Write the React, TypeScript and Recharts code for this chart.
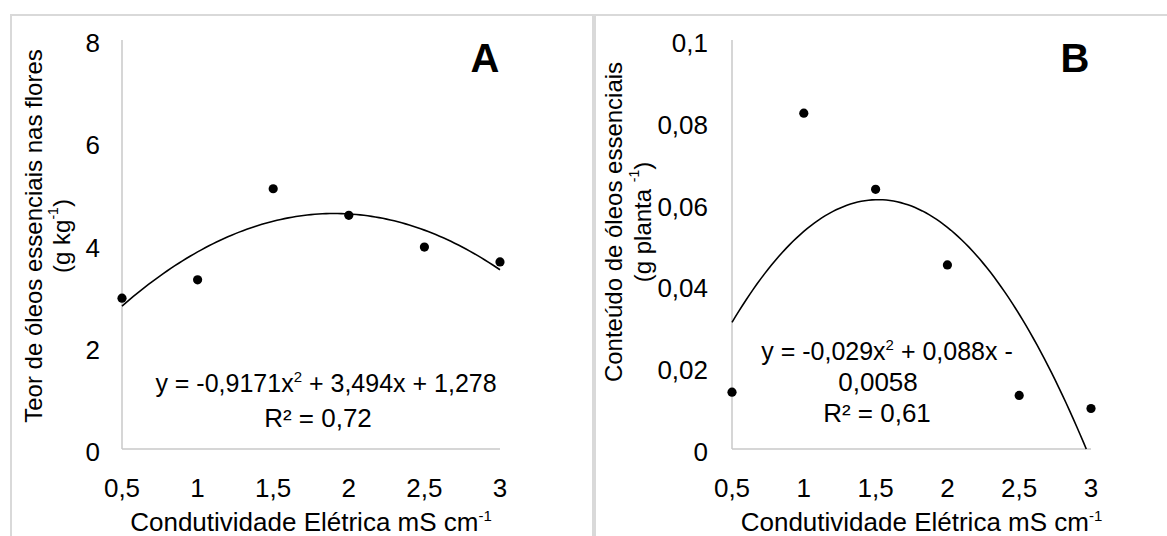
import React from 'react';
import { ScatterChart, Scatter, XAxis, YAxis, Label } from 'recharts';

// Electrical conductivity levels (mS cm-1)
const ecLevels = [0.5, 1, 1.5, 2, 2.5, 3];
// Essential-oil content in flowers (g kg-1)
const teorValues = [2.95, 3.31, 5.09, 4.57, 3.95, 3.66];
// Essential-oil yield per plant (g planta-1)
const conteudoValues = [0.0139, 0.0821, 0.0635, 0.045, 0.0131, 0.0099];

// Quadratic trendline coefficients [a, b, c] for y = a x^2 + b x + c
const teorCoef = [-0.9171, 3.494, 1.278];
const conteudoCoef = [-0.029, 0.088, -0.0058];

const teorTicks = [0, 2, 4, 6, 8];
const conteudoTicks = [0, 0.02, 0.04, 0.06, 0.08, 0.1];

const FONT = '"Liberation Sans", Arial, Helvetica, sans-serif';
const AXIS_GRAY = '#c9c9c9';
const FRAME_GRAY = '#d9d9d9';

const toPoints = (ys: number[]) => ecLevels.map((x, i) => ({ x, y: ys[i] }));

// Trendline sampled from its coefficients, cut where it leaves the plot (y < 0)
const trendCurve = (coef: number[]) => {
  const [a, b, c] = coef;
  const f = (x: number) => a * x * x + b * x + c;
  const pts: { x: number; y: number }[] = [];
  const lo = ecLevels[0];
  const hi = ecLevels[ecLevels.length - 1];
  const steps = 100;
  for (let i = 0; i <= steps; i++) {
    const x = lo + ((hi - lo) * i) / steps;
    const y = f(x);
    if (y >= 0) {
      pts.push({ x, y });
    } else {
      // close the curve at the x-axis crossing
      if (pts.length) {
        const disc = b * b - 4 * a * c;
        const r = (-b - Math.sqrt(disc)) / (2 * a);
        pts.push({ x: r, y: 0 });
      }
      break;
    }
  }
  return pts;
};

const fmt = (v: number) => String(v).replace('.', ',');

const Dot = (props: any) => <circle cx={props.cx} cy={props.cy} r={4.6} fill="#000" />;
const NoShape = () => <g />;

const XTick = (props: any) => (
  <text x={props.x} y={props.y + 39} textAnchor="middle" dominantBaseline="central" fontSize={26} fill="#000" fontFamily={FONT}>
    {fmt(props.payload.value)}
  </text>
);

const YTick = (gap: number) => (props: any) => (
  <text x={props.x - gap} y={props.y + 3} textAnchor="end" dominantBaseline="central" fontSize={26} fill="#000" fontFamily={FONT}>
    {fmt(props.payload.value)}
  </text>
);

const XTitle = (dx: number) => (props: any) => {
  const { x, y, width } = props.viewBox;
  return (
    <text x={x + width / 2 + dx} y={y + 82} textAnchor="middle" fontSize={26} fill="#000" fontFamily={FONT}>
      Condutividade Elétrica mS cm
      <tspan dy={-10} fontSize={15}>-1</tspan>
    </text>
  );
};

const YTitle =
  (line1: string, line2a: string, line2sup: string, line2b: string, x1: number, x2: number, cy: number) =>
  () => (
    <g fontFamily={FONT} fontSize={24} fill="#000">
      <text x={x1} y={cy} textAnchor="middle" dominantBaseline="central" transform={`rotate(-90, ${x1}, ${cy})`}>
        {line1}
      </text>
      <text x={x2} y={cy} textAnchor="middle" dominantBaseline="central" transform={`rotate(-90, ${x2}, ${cy})`}>
        {line2a}
        <tspan dy={-8} fontSize={14}>
          {line2sup}
        </tspan>
        <tspan dy={8}>{line2b}</tspan>
      </text>
    </g>
  );

type PanelProps = {
  left: number;
  width: number;
  margin: { top: number; right: number; bottom: number; left: number };
  yAxisWidth: number;
  points: { x: number; y: number }[];
  curve: { x: number; y: number }[];
  yDomain: [number, number];
  yTicks: number[];
  yTickGap: number;
  xTitleDx: number;
  yTitle: (props: any) => React.ReactElement;
};

const Panel = (p: PanelProps) => (
  <div style={{ position: 'absolute', left: p.left, top: 0 }}>
    <ScatterChart width={p.width} height={536} margin={p.margin}>
      <XAxis
        type="number"
        dataKey="x"
        domain={[0.5, 3]}
        ticks={ecLevels}
        interval={0}
        tickLine={false}
        tickSize={0}
        tickMargin={0}
        height={87}
        axisLine={{ stroke: AXIS_GRAY, strokeWidth: 1.5 }}
        tick={XTick}
      >
        <Label content={XTitle(p.xTitleDx)} />
      </XAxis>
      <YAxis
        type="number"
        dataKey="y"
        domain={p.yDomain}
        ticks={p.yTicks}
        interval={0}
        tickLine={false}
        tickSize={0}
        tickMargin={0}
        width={p.yAxisWidth}
        axisLine={{ stroke: AXIS_GRAY, strokeWidth: 1.5 }}
        tick={YTick(p.yTickGap)}
      >
        <Label content={p.yTitle} />
      </YAxis>
      <Scatter
        data={p.curve}
        shape={NoShape}
        line={{ stroke: '#000', strokeWidth: 1.6 }}
        lineType="joint"
        isAnimationActive={false}
      />
      <Scatter data={p.points} shape={Dot} isAnimationActive={false} />
    </ScatterChart>
  </div>
);

export default function App() {
  return (
    <div
      style={{
        position: 'absolute',
        left: 0,
        top: 0,
        width: 1167,
        height: 536,
        overflow: 'hidden',
        background: '#fff',
        fontFamily: FONT,
      }}
    >
      {/* panel frames */}
      <div
        style={{
          position: 'absolute',
          left: 10,
          top: 14,
          width: 584,
          height: 600,
          boxSizing: 'border-box',
          border: `2px solid ${FRAME_GRAY}`,
        }}
      />
      <div
        style={{
          position: 'absolute',
          left: 594,
          top: 14,
          width: 700,
          height: 600,
          boxSizing: 'border-box',
          border: `2px solid ${FRAME_GRAY}`,
        }}
      />

      <Panel
        left={0}
        width={594}
        margin={{ top: 40, right: 94, bottom: 0, left: 0 }}
        yAxisWidth={122}
        points={toPoints(teorValues)}
        curve={trendCurve(teorCoef)}
        yDomain={[0, 8]}
        yTicks={teorTicks}
        yTickGap={22}
        xTitleDx={0}
        yTitle={YTitle('Teor de óleos essenciais nas flores', '(g kg', '-1', ')', 33, 61, 236)}
      />
      <Panel
        left={594}
        width={573}
        margin={{ top: 40, right: 76, bottom: 0, left: 0 }}
        yAxisWidth={138}
        points={toPoints(conteudoValues)}
        curve={trendCurve(conteudoCoef)}
        yDomain={[0, 0.1]}
        yTicks={conteudoTicks}
        yTickGap={24}
        xTitleDx={10}
        yTitle={YTitle('Conteúdo de óleos essenciais', '(g planta ', '-1', ')', 19, 48, 222)}
      />

      {/* trendline equations and panel letters */}
      <svg
        width={1167}
        height={536}
        style={{ position: 'absolute', left: 0, top: 0, pointerEvents: 'none' }}
        fontFamily={FONT}
      >
        <g fill="#000" textAnchor="middle">
          <text x={326} y={392} fontSize={25}>
            y = -0,9171x<tspan dy={-10} fontSize={15}>2</tspan>
            <tspan dy={10}> + 3,494x + 1,278</tspan>
          </text>
          <text x={318} y={427} fontSize={26}>R² = 0,72</text>

          <text x={887} y={360} fontSize={25}>
            y = -0,029x<tspan dy={-10} fontSize={15}>2</tspan>
            <tspan dy={10}> + 0,088x -</tspan>
          </text>
          <text x={878} y={391} fontSize={26}>0,0058</text>
          <text x={877} y={422} fontSize={26}>R² = 0,61</text>
        </g>
        <g fontSize={40} fontWeight="bold" fill="#000" textAnchor="middle">
          <text x={485} y={72}>A</text>
          <text x={1075} y={72}>B</text>
        </g>
      </svg>
    </div>
  );
}
